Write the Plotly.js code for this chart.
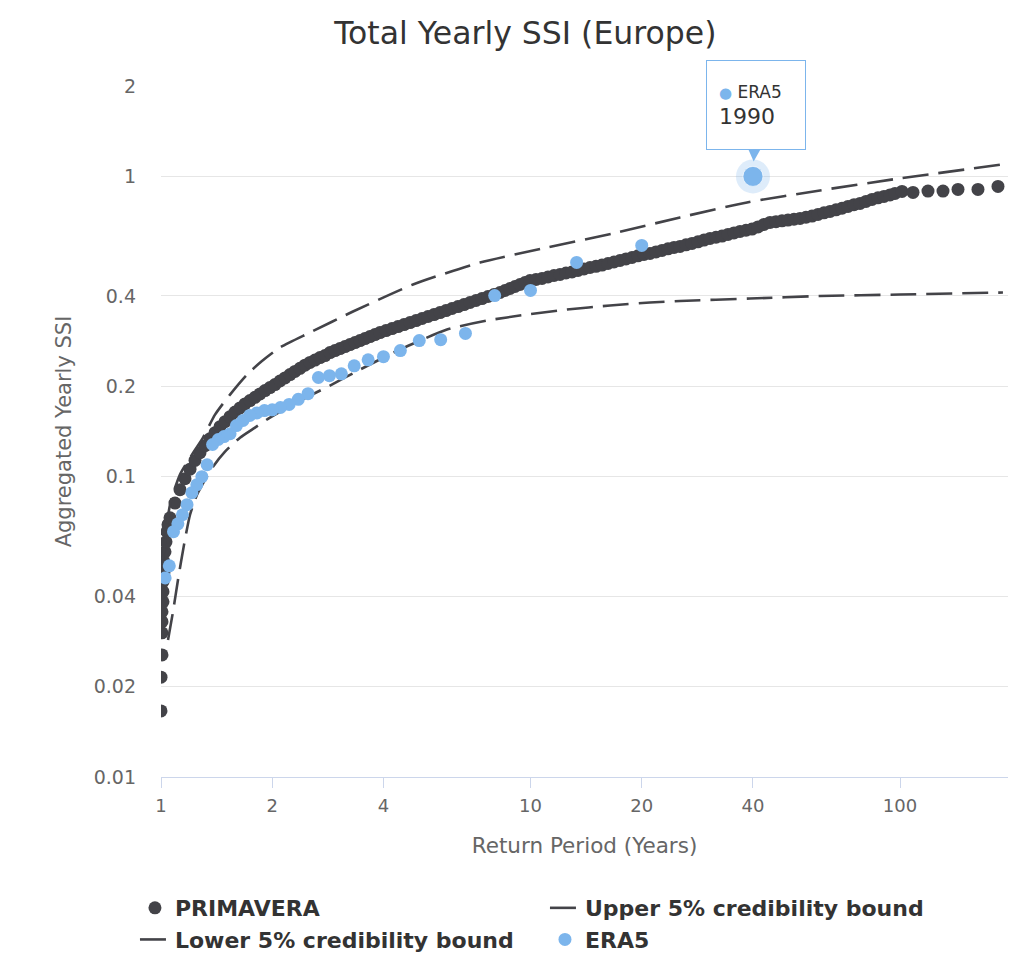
<!DOCTYPE html>
<html><head><meta charset="utf-8">
<script src="https://cdn.plot.ly/plotly-3.0.1.min.js"></script>
<style>html,body{margin:0;padding:0;background:#fff;}#chart{width:1024px;height:957px;}</style>
</head><body><div id="chart"></div>
<script>
// ---- data ----
const primaveraRP = [1.000,1.000,1.0062,1.0062,1.0062,1.0062,1.0125,1.0125,1.0125,1.0189,1.0189,1.0252,1.0317,1.0381,1.0446,
  1.0577,1.0911,1.1256,1.1612,1.1982,1.2360,1.2752,1.3156,1.3573,1.4003,1.4446,1.4903,1.5375,1.5859,1.6362,1.6879,1.7413,
  1.7963,1.8531,1.9118,1.9722,2.0346,2.0989,2.1653,2.2340,2.3045,2.3777,2.4527,2.5305,2.6109,2.6935,2.7787,2.8666,2.9574,
  3.0506,3.1476,3.2468,3.3497,3.4557,3.5650,3.6777,3.7941,3.9143,4.0638,4.2191,4.3799,4.5476,4.7207,4.9009,5.0874,5.2806,
  5.4822,5.6894,5.9063,6.1317,6.3651,6.6070,6.8593,7.1206,7.3904,7.6730,7.9649,8.2690,8.5320,8.8005,9.0806,9.3665,9.6643,
  9.9689,10.349,10.743,11.152,11.577,12.019,12.477,12.951,13.445,13.957,14.490,15.044,15.616,16.211,16.827,17.468,18.134,
  18.823,19.537,20.283,21.056,21.862,22.693,23.560,24.457,25.389,26.358,27.356,28.396,29.478,30.606,31.777,32.984,34.241,
  35.538,36.899,38.309,39.764,41.277,42.851,44.484,46.171,47.929,49.752,51.651,53.630,55.674,57.795,59.998,62.282,64.660,
  67.125,69.679,72.333,75.089,77.953,80.914,83.990,87.195,90.509,93.963,96.933,101.25,108.44,119.06,130.73,143.54,162.57,184.17];
const primaveraSSI = [0.0166,0.0215,0.0255,0.0302,0.0329,0.0355,0.0383,0.0414,0.0447,0.0482,0.0521,0.0562,0.0607,0.0656,0.0692,
  0.0730,0.0817,0.0905,0.0985,0.1059,0.1133,0.1202,0.1269,0.1339,0.1402,0.1468,0.1525,0.1585,0.1641,0.1694,0.1747,0.1792,
  0.1838,0.1886,0.1935,0.1980,0.2026,0.2083,0.2133,0.2188,0.2241,0.2295,0.2352,0.2401,0.2445,0.2493,0.2531,0.2590,0.2630,
  0.2671,0.2713,0.2754,0.2797,0.2840,0.2884,0.2929,0.2974,0.3020,0.3067,0.3114,0.3162,0.3211,0.3261,0.3311,0.3363,0.3415,
  0.3467,0.3521,0.3575,0.3631,0.3687,0.3744,0.3802,0.3861,0.3920,0.3981,0.4043,0.4105,0.4169,0.4233,0.4299,0.4365,0.4433,
  0.4501,0.4536,0.4571,0.4624,0.4677,0.4713,0.4768,0.4805,0.4861,0.4917,0.4974,0.5020,0.5067,0.5129,0.5188,0.5248,0.5313,
  0.5370,0.5441,0.5495,0.5538,0.5606,0.5667,0.5737,0.5799,0.5844,0.5916,0.5980,0.6053,0.6138,0.6213,0.6271,0.6329,0.6407,
  0.6481,0.6557,0.6617,0.6679,0.6787,0.6918,0.7025,0.7068,0.7112,0.7156,0.7200,0.7244,0.7311,0.7379,0.7470,0.7563,0.7644,
  0.7739,0.7834,0.7943,0.8048,0.8128,0.8254,0.8382,0.8482,0.8577,0.8678,0.8777,0.8913,0.8845,0.8933,0.8933,0.9051,0.9051,0.9261];

const upperRP  = [1.0125,1.0577,1.1256,1.2130,1.2993,1.4003,1.5375,1.7090,1.8763,2.0989,2.5305,3.3085,4.8093,7.3004,11.082,16.721,25.389,38.546,60.749,95.734,189.95];
const upperSSI = [0.0529,0.0807,0.1016,0.1184,0.1349,0.1609,0.1877,0.2188,0.2427,0.2692,0.3020,0.3548,0.4365,0.5164,0.5799,0.6457,0.7300,0.8191,0.8981,0.9772,1.0965];

const lowerRP  = [1.0446,1.0776,1.1118,1.1541,1.1982,1.2515,1.3156,1.3829,1.4903,1.6362,1.7963,1.9722,2.3777,2.8666,3.4557,4.4356,5.9434,7.6253,9.7834,12.554,16.411,21.056,25.389,39.273,60.749,100.0,189.95];
const lowerSSI = [0.0286,0.0355,0.0454,0.0593,0.0747,0.0871,0.0977,0.1080,0.1212,0.1349,0.1457,0.1573,0.1792,0.2011,0.2274,0.2651,0.3090,0.3311,0.3467,0.3603,0.3715,0.3802,0.3846,0.3920,0.3996,0.4043,0.4105];

const era5RP  = [40,20,13.33,10,8,6.667,5.714,5,4.444,4,3.636,3.333,3.077,2.857,2.667,2.5,2.353,2.222,2.105,2,1.905,1.818,1.739,1.667,1.6,1.538,1.481,1.429,1.379,1.333,1.29,1.25,1.212,1.176,1.143,1.111,1.081,1.053,1.026];
const era5SSI = [1.0,0.589,0.517,0.417,0.401,0.300,0.286,0.284,0.263,0.251,0.245,0.234,0.220,0.217,0.214,0.189,0.181,0.174,0.170,0.167,0.166,0.163,0.160,0.154,0.148,0.139,0.136,0.133,0.128,0.1096,0.100,0.094,0.0885,0.0807,0.0747,0.0697,0.0656,0.0505,0.0460];
const highlightYear = '1990';

const xTicks = [1,2,4,10,20,40,100];
const yTicks = [0.01,0.02,0.04,0.1,0.2,0.4,1,2];
const yTickText = ['0.01','0.02','0.04','0.1','0.2','0.4','1','2'];

// ---- chart ----
const FONT = 'DejaVu Sans, Verdana, sans-serif';
const DARK = '#434348', BLUE = '#7cb5ec';
let hi = 0; era5SSI.forEach((v,i)=>{ if (v > era5SSI[hi]) hi = i; });
const hlX = era5RP[hi], hlY = era5SSI[hi];

const traces = [
  {x: primaveraRP, y: primaveraSSI, name: 'PRIMAVERA', type: 'scatter', mode: 'markers',
   marker: {color: DARK, size: 13}},
  {x: upperRP, y: upperSSI, name: 'Upper 5% credibility bound', type: 'scatter', mode: 'lines',
   line: {color: DARK, width: 2.6, dash: '26px,10px', shape: 'spline', smoothing: 0.6}},
  {x: lowerRP, y: lowerSSI, name: 'Lower 5% credibility bound', type: 'scatter', mode: 'lines',
   line: {color: DARK, width: 2.6, dash: '26px,10px', shape: 'spline', smoothing: 0.6}},
  {x: era5RP, y: era5SSI, name: 'ERA5', type: 'scatter', mode: 'markers',
   marker: {color: BLUE, size: 13}},
  {x: [hlX], y: [hlY], type: 'scatter', mode: 'markers', showlegend: false,
   marker: {color: 'rgba(124,181,236,0.25)', size: 34}},
  {x: [hlX], y: [hlY], type: 'scatter', mode: 'markers', showlegend: false,
   marker: {color: BLUE, size: 20, line: {color: 'rgba(255,255,255,0.6)', width: 1}}}
];

const layout = {
  width: 1024, height: 957,
  margin: {l: 161, r: 16, t: 86, b: 180},
  paper_bgcolor: '#fff', plot_bgcolor: '#fff',
  font: {family: FONT, color: '#666'},
  showlegend: true,
  hovermode: false,
  title: {text: 'Total Yearly SSI (Europe)', x: 0.513, xref: 'container', xanchor: 'center',
          y: 0.966, yref: 'container', yanchor: 'middle',
          font: {family: FONT, size: 31.5, color: '#333'}},
  xaxis: {type: 'log', range: [0, 2.2923], tickvals: xTicks, ticktext: xTicks.map(String),
          showgrid: false, zeroline: false, showline: true, linecolor: '#ccd6eb', linewidth: 1,
          ticks: 'outside', ticklen: 10, tickcolor: '#ccd6eb', tickwidth: 1, ticklabelstandoff: 2,
          tickfont: {family: FONT, size: 18, color: '#666'},
          title: {text: 'Return Period (Years)', font: {family: FONT, size: 21.5, color: '#666'}, standoff: 23}},
  yaxis: {type: 'log', range: [-2, Math.log10(2)], tickvals: yTicks, ticktext: yTickText,
          showgrid: true, gridcolor: '#e6e6e6', gridwidth: 1, zeroline: false, showline: false,
          ticks: '', ticklabelstandoff: 24,
          tickfont: {family: FONT, size: 19, color: '#666'},
          title: {text: 'Aggregated Yearly SSI', font: {family: FONT, size: 21, color: '#666'}, standoff: 16}},
  legend: {orientation: 'h', x: 0.1318, xref: 'container', xanchor: 'left', y: 0.0731, yref: 'container', yanchor: 'top',
           entrywidth: 365, entrywidthmode: 'pixels', traceorder: 'normal',
           font: {family: FONT, size: 22, color: '#333', weight: 'bold'}, bgcolor: 'rgba(0,0,0,0)'},
  annotations: [{
    x: Math.log10(hlX), y: Math.log10(hlY), xref: 'x', yref: 'y',
    text: "<span style='color:#7cb5ec;font-size:15px'>●</span><span style='font-size:17px;color:#333'>&nbsp;ERA5</span><br><span style='font-size:22px;color:#333'>" + highlightYear + "</span>",
    showarrow: true, arrowhead: 2, arrowsize: 2, arrowwidth: 1.2, arrowcolor: BLUE,
    ax: 3.5, ay: -71, standoff: 15,
    bgcolor: 'rgba(255,255,255,0.96)', bordercolor: BLUE, borderwidth: 1, borderpad: 12,
    width: 74, height: 64, align: 'left', valign: 'middle', font: {family: FONT, size: 20, color: '#333'}
  }]
};

Plotly.newPlot('chart', traces, layout, {displayModeBar: false, staticPlot: true});
</script></body></html>
